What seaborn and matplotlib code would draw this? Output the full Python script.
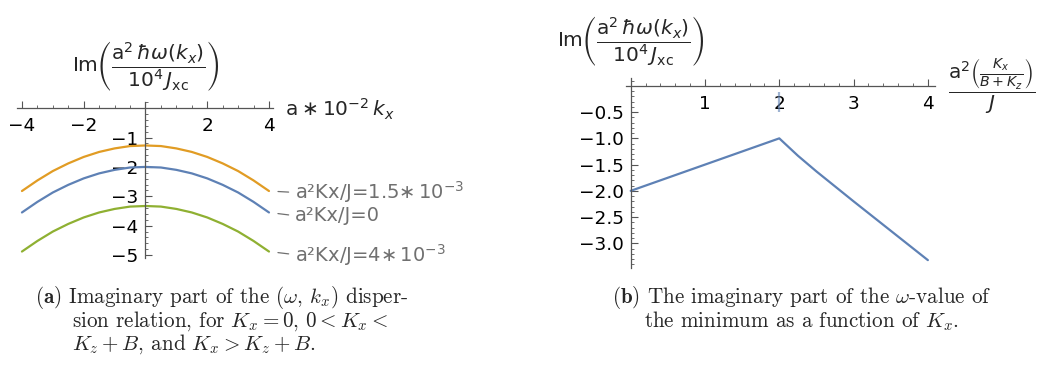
import matplotlib
matplotlib.use("Agg")
import matplotlib.pyplot as plt
import pandas as pd
import seaborn as sns
from matplotlib.ticker import FixedLocator, MultipleLocator, FuncFormatter

# ---------------- data ----------------
# (a) imaginary part of the dispersion relation vs. a*1e-2*k_x
k_x = [-4.0, -3.5, -3.0, -2.5, -2.0, -1.5, -1.0, -0.5, 0.0,
       0.5, 1.0, 1.5, 2.0, 2.5, 3.0, 3.5, 4.0]
im_kx_zero = [-3.55, -3.19, -2.87, -2.61, -2.39, -2.22, -2.10, -2.02, -2.00,
              -2.02, -2.10, -2.22, -2.39, -2.61, -2.87, -3.19, -3.55]
im_kx_small = [-2.82, -2.46, -2.14, -1.88, -1.66, -1.49, -1.37, -1.29, -1.27,
               -1.29, -1.37, -1.49, -1.66, -1.88, -2.14, -2.46, -2.82]
im_kx_large = [-4.88, -4.52, -4.20, -3.94, -3.72, -3.55, -3.43, -3.35, -3.33,
               -3.35, -3.43, -3.55, -3.72, -3.94, -4.20, -4.52, -4.88]
series_names = ["zero", "small", "large"]
series_labels = ["a²Kx/J=0",
                 r"a²Kx/J=1.5$\ast\,10^{-3}$",
                 r"a²Kx/J=4$\ast\,10^{-3}$"]
series_colors = ["#5E81B5", "#E19C24", "#8FB032"]
# small vertical nudges (points) so neighbouring end labels keep clear of each other
label_nudge = [-0.9, 1.2, 0.0]

# (b) imaginary part of omega at the minimum vs. anisotropy ratio
kx_ratio = [0.0, 0.5, 1.0, 1.5, 2.0, 2.25, 2.5, 3.0, 3.5, 4.0]
im_at_min = [-2.00, -1.75, -1.50, -1.25, -1.00, -1.33, -1.63, -2.20, -2.76, -3.32]
kink_marker_y = [-0.12, -0.50]

# ---------------- style ----------------
sns.set_theme(style="white")
plt.rcParams["font.family"] = ["DejaVu Sans"]
plt.rcParams["mathtext.fontset"] = "dejavusans"
plt.rcParams["axes.unicode_minus"] = True

AXIS_GRAY = "#555555"
LABEL_GRAY = "#707070"
TICK_FS = 13.3
AXLABEL_FS = 14.5
CURVE_FS = 14

FIG_W, FIG_H = 1040, 372
fig = plt.figure(figsize=(FIG_W / 100, FIG_H / 100), dpi=100)


def add_axes_px(x0, x1, y_top, y_bot):
    return fig.add_axes([x0 / FIG_W, 1 - y_bot / FIG_H,
                         (x1 - x0) / FIG_W, (y_bot - y_top) / FIG_H])


def origin_axes(ax):
    for side in ("top", "right"):
        ax.spines[side].set_visible(False)
    for side in ("left", "bottom"):
        ax.spines[side].set_position(("data", 0))
        ax.spines[side].set_color(AXIS_GRAY)
        ax.spines[side].set_linewidth(0.9)
    ax.set_facecolor("none")
    ax.tick_params(which="both", direction="in", color=AXIS_GRAY,
                   bottom=True, left=True, top=False, right=False,
                   labelsize=TICK_FS, labelcolor="black")
    ax.tick_params(which="major", length=5, width=0.8)
    ax.tick_params(which="minor", length=2.5, width=0.6)
    ax.tick_params(axis="x", pad=6.5)
    ax.tick_params(axis="y", pad=5)
    ax.set_xlabel("")
    ax.set_ylabel("")


def minus_fmt(decimals):
    return FuncFormatter(lambda v, _: f"{v:.{decimals}f}".replace("-", "\u2212"))


Y_LABEL = r"$\mathrm{Im}\left(\dfrac{\mathrm{a}^2\,\hbar\omega(k_x)}{10^4\,J_{\mathrm{xc}}}\right)$"

# ---------------- panel (a) ----------------
ax1 = add_axes_px(16.7, 273, 101.7, 258)
df_a = pd.DataFrame({
    "k": k_x * 3,
    "im": im_kx_zero + im_kx_small + im_kx_large,
    "series": [n for n in series_names for _ in k_x],
})
sns.lineplot(data=df_a, x="k", y="im", hue="series", hue_order=series_names,
             palette=dict(zip(series_names, series_colors)), estimator=None,
             linewidth=1.6, legend=False, ax=ax1)
ax1.set_xlim(-4.17, 4.13)
ax1.set_ylim(-5.1, 0.22)
origin_axes(ax1)
ax1.xaxis.set_major_locator(FixedLocator([-4, -2, 2, 4]))
ax1.xaxis.set_minor_locator(MultipleLocator(0.5))
ax1.yaxis.set_major_locator(FixedLocator([-1, -2, -3, -4, -5]))
ax1.yaxis.set_minor_locator(MultipleLocator(0.2))
ax1.xaxis.set_major_formatter(minus_fmt(0))
ax1.yaxis.set_major_formatter(minus_fmt(0))

for vals, label, dy in zip([im_kx_zero, im_kx_small, im_kx_large],
                           series_labels, label_nudge):
    ax1.annotate(label, xy=(k_x[-1], vals[-1]), xytext=(18.7, dy),
                 textcoords="offset points", ha="left", va="center_baseline",
                 fontsize=CURVE_FS, color=LABEL_GRAY, annotation_clip=False,
                 arrowprops=dict(arrowstyle="-", color=LABEL_GRAY, lw=0.9,
                                 relpos=(0, 0.5), shrinkA=2.2, shrinkB=6.5))

ax1.annotate(Y_LABEL, xy=(0, 0.22), xytext=(0, 6), textcoords="offset points",
             ha="center", va="bottom", fontsize=AXLABEL_FS, annotation_clip=False)
ax1.annotate(r"$\mathrm{a}\ast10^{-2}\,k_x$", xy=(4.13, 0), xytext=(8.5, -1),
             textcoords="offset points", ha="left", va="center",
             fontsize=AXLABEL_FS, annotation_clip=False)

# ---------------- panel (b) ----------------
ax2 = add_axes_px(625.5, 935.3, 78, 268)
df_b = pd.DataFrame({"ratio": kx_ratio, "im": im_at_min})
sns.lineplot(data=df_b, x="ratio", y="im", color=series_colors[0],
             linewidth=1.6, estimator=None, ax=ax2)
peak = im_at_min.index(max(im_at_min))
ax2.plot([kx_ratio[peak]] * 2, kink_marker_y, color=series_colors[0],
         alpha=0.6, lw=1.6, solid_capstyle="butt", zorder=6, clip_on=False)
ax2.set_xlim(-0.07, 4.1)
ax2.set_ylim(-3.47, 0.15)
origin_axes(ax2)
ax2.xaxis.set_major_locator(FixedLocator([1, 2, 3, 4]))
ax2.xaxis.set_minor_locator(MultipleLocator(0.2))
ax2.yaxis.set_major_locator(FixedLocator([-0.5, -1.0, -1.5, -2.0, -2.5, -3.0]))
ax2.yaxis.set_minor_locator(MultipleLocator(0.1))
ax2.xaxis.set_major_formatter(minus_fmt(0))
ax2.yaxis.set_major_formatter(minus_fmt(1))

ax2.annotate(Y_LABEL, xy=(0, 0.15), xytext=(0, 7), textcoords="offset points",
             ha="center", va="bottom", fontsize=AXLABEL_FS, annotation_clip=False)
ax2.annotate(r"$\dfrac{\mathrm{a}^2\left(\frac{K_x}{B+K_z}\right)}{J}$",
             xy=(4.1, 0), xytext=(9, 0), textcoords="offset points",
             ha="left", va="center", fontsize=AXLABEL_FS, annotation_clip=False)

# ---------------- captions ----------------
CAP = dict(fontsize=15.2, family="cmr10", math_fontfamily="cm", va="baseline")


def ypx(y):
    return 1 - y / FIG_H


fig.text(35 / FIG_W, ypx(303), r"$\mathbf{(a)}$ Imaginary part of the $(\omega,\,k_x)$ disper-",
         ha="left", **CAP)
fig.text(72 / FIG_W, ypx(326.5), r"sion relation, for $K_x = 0$, $0 < K_x <$",
         ha="left", **CAP)
fig.text(72 / FIG_W, ypx(350), r"$K_z + B$, and $K_x > K_z + B$.",
         ha="left", **CAP)
fig.text(801.5 / FIG_W, ypx(302.8), r"$\mathbf{(b)}$ The imaginary part of the $\omega$-value of",
         ha="center", **CAP)
fig.text(801.5 / FIG_W, ypx(327.2), r"the minimum as a function of $K_x$.",
         ha="center", **CAP)

fig.savefig("out.png", dpi=100, facecolor="white")
